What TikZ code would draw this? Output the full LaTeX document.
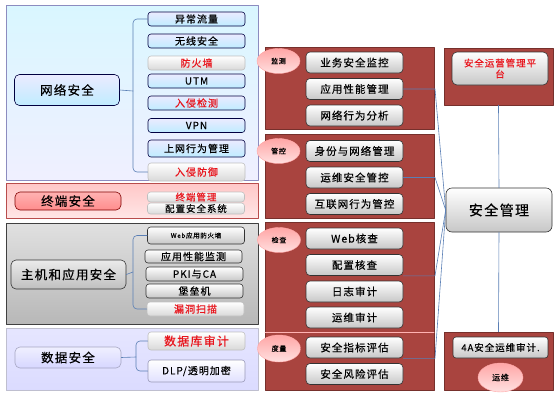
\documentclass[tikz,border=0pt]{standalone}
\usepackage{fontspec}
\setmainfont{Noto Sans CJK SC}[LetterSpace=10, FakeBold=0.4]
\usetikzlibrary{positioning,shapes.geometric}
\definecolor{lnblue}{HTML}{5A7FB5}
\definecolor{darkred}{HTML}{A9443F}
\definecolor{txtred}{HTML}{E8131B}
\tikzset{
  every picture/.style={line cap=round, line join=round},
  box/.style={rounded corners=3pt, inner sep=0pt, minimum width=97pt, minimum height=14pt,
    font=\fontsize{10}{10}\selectfont, line width=0.6pt},
  bluei/.style={box, draw=black!75!blue, top color=blue!8, bottom color=blue!30!cyan!25!white},
  whitei/.style={box, draw=black!25, top color=white, bottom color=black!15, text=txtred},
  grayi/.style={box, draw=black!80, top color=white, bottom color=black!22},
  midi/.style={grayi, rounded corners=4pt, minimum height=21pt, font=\fontsize{10.5}{11}\selectfont},
  lbl/.style={rounded corners=5pt, inner sep=0pt, line width=0.6pt, font=\fontsize{12.5}{13}\selectfont},
  oval/.style={ellipse, draw=red!35, top color=red!35, bottom color=red!12, inner sep=0pt,
    minimum width=43pt, minimum height=25pt, font=\fontsize{7}{8}\selectfont},
  darkpanel/.style={fill=darkred, draw=darkred!70!black, line width=0.5pt},
  brc/.style={draw=lnblue, line width=0.6pt, rounded corners=4pt},
  link/.style={draw=lnblue, line width=0.6pt}
}
\begin{document}
\begin{tikzpicture}[x=1pt,y=-1pt]
\useasboundingbox (0,0) rectangle (558,400);
% left panels
\path[draw=blue!45!black!45, top color=blue!22!cyan!15, bottom color=blue!6, line width=0.6pt] (6,5) rectangle (258,180);
\path[draw=red!60!black!70, top color=red!22, bottom color=red!10, line width=0.6pt] (6,183) rectangle (258,218);
\path[draw=black!75, top color=black!12, bottom color=black!28, line width=0.6pt] (6,223) rectangle (258,324);
\path[draw=blue!25!black!25, top color=blue!10, bottom color=blue!14, line width=0.6pt] (6,328) rectangle (258,390);
% middle and right panels
\path[darkpanel] (265,47) rectangle (434,129);
\path[darkpanel] (265,134) rectangle (434,218);
\path[darkpanel] (265,222) rectangle (434,332);
\path[darkpanel] (265,332) rectangle (434,390);
\draw[red!30!white, line width=0.6pt] (265,332) -- (434,332);
\node[darkpanel, minimum width=109pt, minimum height=57pt, inner sep=0pt] (opsTop) at (498.5,76.5) {};
\node[darkpanel, minimum width=109pt, minimum height=58pt, inner sep=0pt] (opsBot) at (498.5,361) {};

% network security
\node[lbl, draw=black!75!blue, top color=blue!8, bottom color=blue!30!cyan!25!white, minimum width=105pt, minimum height=31pt] (netL) at (67,90) {网络安全};
\node[bluei] (n1) at (196.5,19) {异常流量};
\node[bluei] (n2) at (196.5,41) {无线安全};
\node[whitei] (n3) at (196.5,63) {防火墙};
\node[bluei] (n4) at (196.5,81) {UTM};
\node[bluei, text=txtred] (n5) at (196.5,103) {入侵检测};
\node[bluei] (n6) at (196.5,125.5) {VPN};
\node[bluei, minimum height=17pt] (n7) at (196.5,148.5) {上网行为管理};
\node[whitei, minimum height=18pt] (n8) at (196.5,172) {入侵防御};
\path[brc] (n1.west) -| (133,91) |- (n8.west);
\draw[link] (netL.east) -- (133,91);

% terminal security
\node[lbl, draw=red!50!black, top color=red!30, bottom color=red!45, minimum width=106pt, minimum height=18pt] (termL) at (68,201) {终端安全};
\node[whitei, minimum height=10pt, font=\fontsize{9.5}{9}\selectfont] (t1) at (196,197) {终端管理};
\node[whitei, text=black, minimum height=11pt, font=\fontsize{9.5}{9}\selectfont] (t2) at (196,208.5) {配置安全系统};

% host and application security
\node[lbl, draw=black!80, top color=black!8, bottom color=black!25, minimum width=115pt, minimum height=29pt] (hostL) at (68.5,274.5) {主机和应用安全};
\node[grayi, minimum height=17pt, font=\fontsize{6.5}{7}\selectfont] (h1) at (196,235.5) {Web应用防火墙};
\node[grayi, minimum height=13pt] (h2) at (193.5,256.5) {应用性能监测};
\node[grayi] (h3) at (194.5,274) {PKI与CA};
\node[grayi] (h4) at (194.5,291) {堡垒机};
\node[whitei] (h5) at (195.5,309) {漏洞扫描};
\path[brc] (h1.west) -| (133,272) |- (h5.west);
\draw[link] (hostL.east) -- (133,272);

% data security
\node[lbl, draw=blue!30!black!35, top color=blue!6, bottom color=blue!16, minimum width=106pt, minimum height=21pt] (dataL) at (68,357.5) {数据安全};
\node[whitei, minimum height=18pt, font=\fontsize{12}{12}\selectfont] (d1) at (196.5,341) {数据库审计};
\node[box, draw=blue!30!black!40, top color=white, bottom color=blue!12, minimum height=22pt] (d2) at (196.5,371) {DLP/透明加密};
\path[brc] (d1.west) -| (136,357) |- (d2.west);
\draw[link] (dataL.east) -- (136,357);

% monitoring
\node[oval] (o1) at (278.5,61) {监测};
\node[midi] (m1) at (354.5,62.5) {业务安全监控};
\node[midi] (m2) at (354.5,89) {应用性能管理};
\node[midi] (m3) at (354.5,115.5) {网络行为分析};
% control
\node[oval] (o2) at (278.5,151) {管控};
\node[midi] (c1) at (354.5,151) {身份与网络管理};
\node[midi] (c2) at (354.5,177.5) {运维安全管控};
\node[midi] (c3) at (354.5,204) {互联网行为管控};
% check
\node[oval] (o3) at (279,240) {检查};
\node[midi] (k1) at (354.5,238.5) {Web核查};
\node[midi] (k2) at (354.5,265) {配置核查};
\node[midi] (k3) at (354.5,291.5) {日志审计};
\node[midi] (k4) at (354.5,317.5) {运维审计};
% measure
\node[oval, minimum height=27pt] (o4) at (279,348.5) {度量};
\node[midi] (s1) at (354.5,347.5) {安全指标评估};
\node[midi] (s2) at (354.5,374) {安全风险评估};

% right column
\node[grayi, rounded corners=5pt, minimum width=96pt, minimum height=33pt, text=txtred, align=center, font=\fontsize{9.5}{11}\selectfont] (plat) at (500,68.5) {安全运营管理平\\台};
\node[grayi, rounded corners=6pt, minimum width=106pt, minimum height=44pt, font=\fontsize{14}{14}\selectfont] (mgmt) at (499,210) {安全管理};
\node[grayi, minimum width=95pt, minimum height=21pt, font=\fontsize{9.5}{9}\selectfont] (aud) at (500.5,347.5) {4A安全运维审计.};
\node[oval, minimum width=45pt, minimum height=29pt, font=\fontsize{8}{9}\selectfont] (o5) at (500.5,377.5) {运维};

% links
\coordinate (bend) at (435,0);
\draw[link] (m2.east) -- (m2.east -| bend) -- (mgmt.west);
\draw[link] (c2.east) -- (c2.east -| bend) -- (mgmt.west);
\draw[link] (k2.south east) -- (k2.south east -| bend) -- (mgmt.west);
\draw[link] (s1.south east) -- (s1.south east -| bend) -- (mgmt.west);
\draw[link] (opsTop.south) -- (mgmt.north);
\draw[link] (mgmt.south) -- (opsBot.north);
\end{tikzpicture}
\end{document}
